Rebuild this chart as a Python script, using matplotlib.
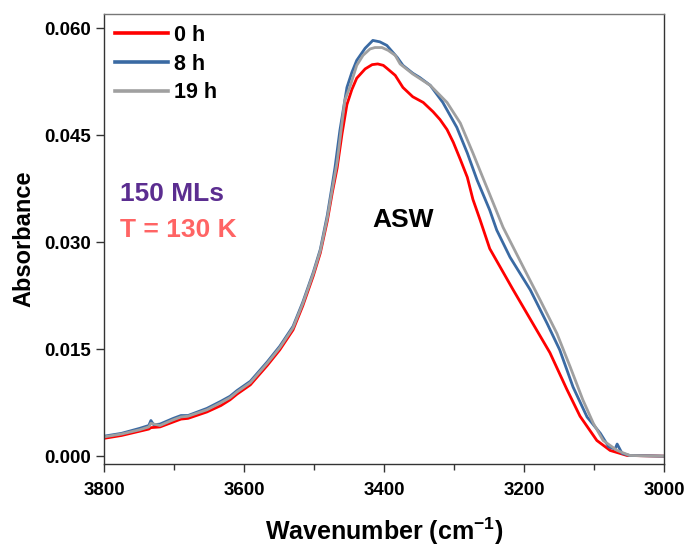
import matplotlib
matplotlib.use("Agg")
import matplotlib.pyplot as plt
from matplotlib.ticker import MultipleLocator

plt.rcParams["font.family"] = ["Liberation Sans", "DejaVu Sans"]
plt.rcParams["font.weight"] = "bold"
plt.rcParams["mathtext.fontset"] = "custom"
plt.rcParams["mathtext.bf"] = "Liberation Sans:bold"
plt.rcParams["mathtext.rm"] = "Liberation Sans:bold"

# spectra (wavenumber in cm-1, absorbance)
wn_0h = [3800, 3775, 3749, 3736, 3733, 3720, 3701, 3690, 3680, 3653, 3633, 3620, 3610,
         3591, 3567, 3549, 3530, 3516, 3501, 3491, 3481, 3474, 3467, 3460, 3453, 3446,
         3439, 3427, 3417, 3409, 3401, 3396, 3384, 3373, 3359, 3344, 3330, 3320, 3310,
         3301, 3291, 3281, 3273, 3263, 3249, 3216, 3191, 3163, 3139, 3120, 3096, 3077,
         3053, 3000]
abs_0h = [0.0025, 0.0029, 0.0035, 0.0038, 0.0040, 0.0041, 0.0048, 0.0052, 0.0053, 0.0062,
          0.0071, 0.0079, 0.0087, 0.0100, 0.0127, 0.0149, 0.0177, 0.0211, 0.0253, 0.0285,
          0.0330, 0.0369, 0.0404, 0.0452, 0.0493, 0.0514, 0.0530, 0.0543, 0.0549, 0.0550,
          0.0548, 0.0544, 0.0534, 0.0517, 0.0504, 0.0496, 0.0483, 0.0472, 0.0458, 0.0440,
          0.0416, 0.0391, 0.0360, 0.0332, 0.0291, 0.0234, 0.0192, 0.0145, 0.0094, 0.0056,
          0.0022, 0.0008, 0.0001, 0.0000]

wn_8h = [3800, 3775, 3749, 3736, 3733, 3729, 3720, 3701, 3690, 3680, 3653, 3633, 3620,
         3610, 3591, 3567, 3549, 3530, 3516, 3501, 3491, 3481, 3474, 3470, 3463, 3453,
         3446, 3439, 3427, 3416, 3406, 3396, 3381, 3373, 3359, 3349, 3334, 3316, 3296,
         3281, 3267, 3249, 3239, 3220, 3191, 3167, 3149, 3130, 3110, 3091, 3079, 3070,
         3067, 3060, 3049, 3000]
abs_8h = [0.0028, 0.0032, 0.0039, 0.0043, 0.0050, 0.0044, 0.0045, 0.0053, 0.0057, 0.0057,
          0.0067, 0.0077, 0.0084, 0.0092, 0.0105, 0.0132, 0.0154, 0.0182, 0.0216, 0.0258,
          0.0290, 0.0338, 0.0380, 0.0405, 0.0457, 0.0517, 0.0538, 0.0555, 0.0572, 0.0583,
          0.0581, 0.0576, 0.0559, 0.0548, 0.0537, 0.0531, 0.0520, 0.0496, 0.0461, 0.0425,
          0.0387, 0.0345, 0.0317, 0.0279, 0.0233, 0.0186, 0.0149, 0.0097, 0.0055, 0.0032,
          0.0013, 0.0010, 0.0017, 0.0004, 0.0001, 0.0000]

wn_19h = [3800, 3775, 3749, 3736, 3733, 3720, 3701, 3690, 3680, 3653, 3633, 3620, 3610,
          3591, 3567, 3549, 3530, 3516, 3501, 3491, 3481, 3474, 3467, 3456, 3449, 3439,
          3430, 3420, 3413, 3403, 3394, 3384, 3377, 3359, 3334, 3310, 3291, 3273, 3259,
          3249, 3230, 3201, 3177, 3153, 3134, 3116, 3101, 3087, 3067, 3049, 3000]
abs_19h = [0.0027, 0.0031, 0.0037, 0.0041, 0.0046, 0.0043, 0.0051, 0.0055, 0.0056, 0.0065,
           0.0075, 0.0082, 0.0090, 0.0103, 0.0130, 0.0152, 0.0180, 0.0214, 0.0256, 0.0288,
           0.0334, 0.0374, 0.0412, 0.0499, 0.0517, 0.0548, 0.0562, 0.0571, 0.0573, 0.0573,
           0.0569, 0.0562, 0.0550, 0.0536, 0.0520, 0.0496, 0.0467, 0.0425, 0.0391, 0.0367,
           0.0321, 0.0265, 0.0219, 0.0172, 0.0125, 0.0079, 0.0046, 0.0022, 0.0008, 0.0001,
           0.0000]

labels = ["0 h", "8 h", "19 h"]
colors = ["#ff0000", "#3a6aa3", "#a0a0a0"]


def main():
    fig = plt.figure(figsize=(6.91, 5.52), dpi=100)
    ax = fig.add_axes([0.1505, 0.1594, 0.8105, 0.8152])

    series = [(wn_0h, abs_0h), (wn_8h, abs_8h), (wn_19h, abs_19h)]
    for (x, y), lab, col in zip(series, labels, colors):
        ax.plot(x, y, color=col, lw=2.0, label=lab)

    ax.set_xlim(3800, 3000)
    ax.set_ylim(-0.0011, 0.062)
    ax.xaxis.set_major_locator(MultipleLocator(200))
    ax.xaxis.set_minor_locator(MultipleLocator(100))
    ax.yaxis.set_major_locator(MultipleLocator(0.015))
    ax.yaxis.set_major_formatter(plt.FormatStrFormatter("%.3f"))
    ax.tick_params(axis="both", which="major", direction="out", length=6, width=1,
                   labelsize=13.5, colors="#333333", labelcolor="black")
    ax.tick_params(axis="x", which="minor", direction="out", length=4, width=1, colors="#333333")
    ax.tick_params(axis="x", which="major", pad=7)
    for lab in ax.get_xticklabels() + ax.get_yticklabels():
        lab.set_fontweight("bold")
    for sp in ax.spines.values():
        sp.set_color("#333333")
        sp.set_linewidth(1.0)
    ax.spines["top"].set_color("#777777")

    ax.set_xlabel("Wavenumber (cm$^{\\mathbf{-1}}$)", fontsize=18, fontweight="bold", labelpad=12)
    ax.set_ylabel("Absorbance", fontsize=17, fontweight="bold", labelpad=6)

    ax.text(3777, 0.0367, "150 MLs", color="#5b2d90", fontsize=19, fontweight="bold",
            va="center", ha="left")
    ax.text(3777, 0.0317, "T = 130 K", color="#ff6464", fontsize=19, fontweight="bold",
            va="center", ha="left")
    ax.text(3373, 0.0331, "ASW", color="black", fontsize=19, fontweight="bold",
            va="center", ha="center")

    leg = ax.legend(loc="upper left", frameon=False, handlelength=2.45,
                    handletextpad=0.3, labelspacing=0.36, borderaxespad=0.1, borderpad=0.4,
                    prop={"weight": "bold", "size": 15.5})
    for line in leg.get_lines():
        line.set_linewidth(2.6)

    fig.savefig("out.png", dpi=100)
    plt.close(fig)


if __name__ == "__main__":
    main()
